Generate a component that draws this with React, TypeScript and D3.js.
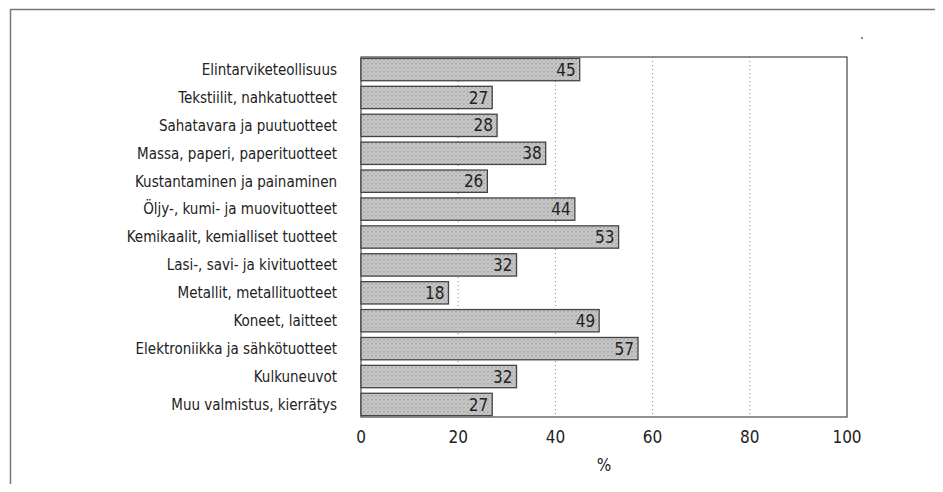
import React, { useEffect, useRef } from "react";
import * as d3 from "d3";

const categories = [
  "Elintarviketeollisuus",
  "Tekstiilit, nahkatuotteet",
  "Sahatavara ja puutuotteet",
  "Massa, paperi, paperituotteet",
  "Kustantaminen ja painaminen",
  "Öljy-, kumi- ja muovituotteet",
  "Kemikaalit, kemialliset tuotteet",
  "Lasi-, savi- ja kivituotteet",
  "Metallit, metallituotteet",
  "Koneet, laitteet",
  "Elektroniikka ja sähkötuotteet",
  "Kulkuneuvot",
  "Muu valmistus, kierrätys",
];
const values = [45, 27, 28, 38, 26, 44, 53, 32, 18, 49, 57, 32, 27];
const xTicks = [0, 20, 40, 60, 80, 100];
const gridTicks = [20, 40, 60, 80];
const xLabel = "%";

const FONT = "'DejaVu Sans Condensed', 'Liberation Sans Narrow', sans-serif";

function App() {
  const ref = useRef<HTMLDivElement>(null);

  useEffect(() => {
    const width = 943;
    const height = 492;
    const left = 361;
    const right = 847;
    const top = 57;
    const bottom = 417;

    d3.select(ref.current).select("svg").remove();

    const svg = d3
      .select(ref.current)
      .append("svg")
      .attr("width", width)
      .attr("height", height)
      .style("display", "block");

    svg.append("rect").attr("width", width).attr("height", height).attr("fill", "#fff");

    // stippled fill, a small scattered-dot tile
    const defs = svg.append("defs");
    const pat = defs
      .append("pattern")
      .attr("id", "stipple")
      .attr("width", 4)
      .attr("height", 4)
      .attr("patternUnits", "userSpaceOnUse");
    pat.append("rect").attr("width", 4).attr("height", 4).attr("fill", "#c9c9c9");
    [[0, 0], [2, 1], [1, 2], [3, 3], [3, 0], [0, 3]].forEach(([px, py], k) => {
      pat
        .append("rect")
        .attr("x", px)
        .attr("y", py)
        .attr("width", 1)
        .attr("height", 1)
        .attr("fill", k % 2 ? "#a8a8a8" : "#b4b4b4");
    });

    // outer frame
    svg
      .append("path")
      .attr("d", `M10.5,${height + 5} V9.5 H941.5 V${height + 5}`)
      .attr("fill", "none")
      .attr("stroke", "#777")
      .attr("stroke-width", 1.5);

    // speck at top right
    svg.append("circle").attr("cx", 862).attr("cy", 38).attr("r", 0.9).attr("fill", "#555");

    const x = d3.scaleLinear().domain([0, 100]).range([left, right]);
    const y = d3.scaleBand<string>().domain(categories).range([top, bottom]).paddingInner(0.2).paddingOuter(0.05);

    // dotted grid
    svg
      .selectAll("line.grid")
      .data(gridTicks)
      .enter()
      .append("line")
      .attr("class", "grid")
      .attr("x1", (d) => x(d))
      .attr("x2", (d) => x(d))
      .attr("y1", top)
      .attr("y2", bottom)
      .attr("stroke", "#888")
      .attr("stroke-width", 1)
      .attr("stroke-dasharray", "1,3");

    // plot frame
    svg
      .append("rect")
      .attr("x", left)
      .attr("y", top)
      .attr("width", right - left)
      .attr("height", bottom - top)
      .attr("fill", "none")
      .attr("stroke", "#555")
      .attr("stroke-width", 1.3);

    // bars
    svg
      .selectAll("rect.bar")
      .data(values)
      .enter()
      .append("rect")
      .attr("class", "bar")
      .attr("x", x(0))
      .attr("y", (_, i) => y(categories[i])!)
      .attr("width", (d) => x(d) - x(0))
      .attr("height", y.bandwidth())
      .attr("fill", "url(#stipple)")
      .attr("stroke", "#444")
      .attr("stroke-width", 1.3);

    // value labels
    svg
      .selectAll("text.val")
      .data(values)
      .enter()
      .append("text")
      .attr("class", "val")
      .attr("x", (d) => x(d) - 4)
      .attr("y", (_, i) => y(categories[i])! + y.bandwidth() / 2)
      .attr("dy", "0.36em")
      .attr("text-anchor", "end")
      .attr("font-family", FONT)
      .attr("font-size", 17)
      .attr("fill", "#222")
      .text((d) => d);

    // category labels
    svg
      .selectAll("text.cat")
      .data(categories)
      .enter()
      .append("text")
      .attr("class", "cat")
      .attr("x", left - 24)
      .attr("y", (d) => y(d)! + y.bandwidth() / 2)
      .attr("dy", "0.36em")
      .attr("text-anchor", "end")
      .attr("font-family", FONT)
      .attr("font-size", 15)
      .attr("fill", "#222")
      .text((d) => d);

    // x tick labels
    svg
      .selectAll("text.tick")
      .data(xTicks)
      .enter()
      .append("text")
      .attr("class", "tick")
      .attr("x", (d) => x(d))
      .attr("y", bottom + 26)
      .attr("text-anchor", "middle")
      .attr("font-family", FONT)
      .attr("font-size", 17)
      .attr("fill", "#222")
      .text((d) => d);

    svg
      .append("text")
      .attr("x", (left + right) / 2)
      .attr("y", bottom + 54)
      .attr("text-anchor", "middle")
      .attr("font-family", FONT)
      .attr("font-size", 17)
      .attr("fill", "#222")
      .text(xLabel);
  }, []);

  return <div ref={ref} style={{ margin: -8 }}></div>;
}

export default App;
